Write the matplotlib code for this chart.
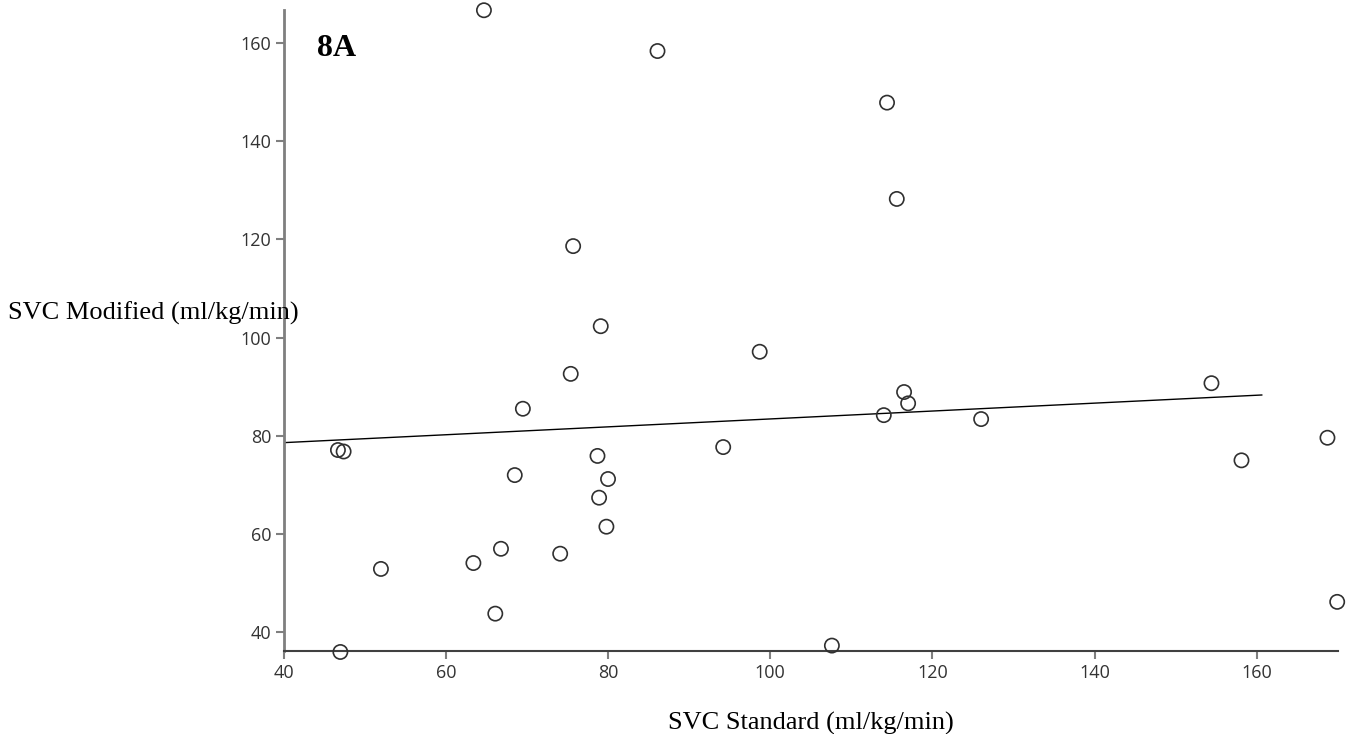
import matplotlib.pyplot as plt

# values
svc_standard = [64.7, 86.1, 114.4, 115.6, 75.7, 79.1, 98.7, 75.4, 69.5, 116.5,
                117.0, 114.0, 126.0, 154.4, 168.7, 158.1, 169.9, 46.7, 47.4, 78.7,
                68.5, 80.0, 78.9, 79.8, 66.8, 74.1, 63.4, 52.0, 66.1, 47.0,
                94.2, 107.6]
svc_modified = [166.6, 158.3, 147.8, 128.2, 118.6, 102.3, 97.1, 92.6, 85.5, 88.9,
                86.6, 84.2, 83.4, 90.7, 79.6, 75.0, 46.2, 77.1, 76.8, 75.9,
                72.0, 71.2, 67.4, 61.5, 57.0, 56.0, 54.1, 52.9, 43.8, 36.0,
                77.7, 37.3]

# fitted line (end points)
fit_x = [40.0, 160.6]
fit_y = [78.6, 88.3]

x_ticks = [40, 60, 80, 100, 120, 140, 160]
y_ticks = [40, 60, 80, 100, 120, 140, 160]

fig = plt.figure(figsize=(13.48, 7.34), dpi=100)
ax = fig.add_axes([283.6 / 1348, 1 - 651 / 734, (1338 - 283.6) / 1348, (651 - 10) / 734])

ax.plot(fit_x, fit_y, color="black", lw=1.0, zorder=2)
ax.scatter(svc_standard, svc_modified, s=105, facecolors="none",
           edgecolors="#303030", linewidths=1.2, zorder=3, clip_on=False)

ax.set_xlim(40, 170)
ax.set_ylim(36.2, 166.65)
ax.set_xticks(x_ticks)
ax.set_yticks(y_ticks)

for side in ["top", "right"]:
    ax.spines[side].set_visible(False)
ax.spines["left"].set_color("#7f7f7f")
ax.spines["left"].set_linewidth(2.0)
ax.spines["bottom"].set_color("#404040")
ax.spines["bottom"].set_linewidth(1.5)

ax.tick_params(axis="both", direction="out", length=6, width=1.5, color="#7f7f7f",
               labelsize=13, labelcolor="#333333", pad=3)
for lab in ax.get_xticklabels() + ax.get_yticklabels():
    lab.set_family("Open Sans")

serif = ["Liberation Serif", "DejaVu Serif"]
ax.set_xlabel("SVC Standard (ml/kg/min)", family=serif, fontsize=19, labelpad=22)
fig.text(8 / 1348, 1 - 313 / 734, "SVC Modified (ml/kg/min)", family=serif,
         fontsize=19, ha="left", va="center", zorder=0)
ax.text(317 / 1348, 1 - 49 / 734, "8A", transform=fig.transFigure, family=serif,
        fontsize=23, fontweight="bold", ha="left", va="center")

fig.savefig("out.png", dpi=100)
